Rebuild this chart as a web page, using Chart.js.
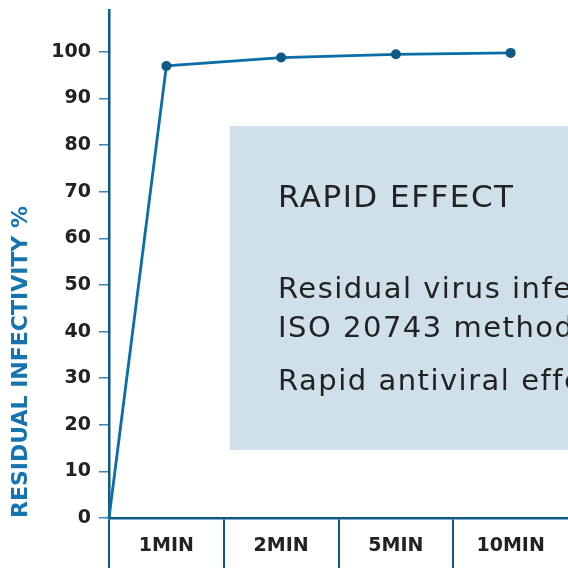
<!DOCTYPE html>
<html>
<head>
<meta charset="utf-8">
<script src="https://cdn.jsdelivr.net/npm/chart.js@4"></script>
<style>
	html, body { margin: 0; padding: 0; background: #fff; overflow: hidden; }
</style>
</head>
<body>
<canvas id="chart" width="568" height="568"></canvas>
<script>
var categories = ['1MIN', '2MIN', '5MIN', '10MIN'];
var values = [97, 98.8, 99.5, 99.8];
var startValue = 0;
var yTickMax = 100;
var yTitle = 'RESIDUAL INFECTIVITY %';
var panelTitle = 'RAPID EFFECT';
var panelLines = [
	'Residual virus infectivity measured by',
	'ISO 20743 method.',
	'Rapid antiviral effect within 1 minute.'
];

var FONT = "'DejaVu Sans', sans-serif";
var AXIS = '#0d5a89';
var LINE = '#0b6ea6';

var points = [{ x: 0, y: startValue }].concat(categories.map(function (c, i) {
	return { x: i + 0.5, y: values[i] };
}));

var panelPlugin = {
	id: 'panel',
	beforeDatasetsDraw: function (chart) {
		var ctx = chart.ctx;
		var a = chart.chartArea;
		var left = a.left + 121;
		var top = a.top + 116;
		ctx.save();
		ctx.fillStyle = '#d0e0ea';
		ctx.fillRect(left, top, chart.width - left, 324);
		ctx.fillStyle = '#222222';
		ctx.textBaseline = 'alphabetic';
		ctx.letterSpacing = '1.5px';
		ctx.font = '31px ' + FONT;
		ctx.fillText(panelTitle, left + 48, top + 81);
		ctx.font = '29px ' + FONT;
		ctx.fillText(panelLines[0], left + 48, top + 172);
		ctx.fillText(panelLines[1], left + 48, top + 211);
		ctx.fillText(panelLines[2], left + 48, top + 264);
		ctx.restore();
	}
};

new Chart(document.getElementById('chart'), {
	type: 'line',
	data: {
		datasets: [{
			data: points,
			borderColor: LINE,
			borderWidth: 2.8,
			pointRadius: points.map(function (p, i) { return i === 0 ? 0 : 5; }),
			pointBackgroundColor: AXIS,
			pointBorderWidth: 0,
			tension: 0,
			clip: false
		}]
	},
	options: {
		responsive: false,
		animation: false,
		layout: { padding: 0, autoPadding: false },
		plugins: {
			legend: { display: false },
			tooltip: { enabled: false }
		},
		scales: {
			x: {
				type: 'linear',
				min: 0,
				max: categories.length,
				afterFit: function (scale) {
					scale.height = 50;
					scale.paddingLeft = 0;
					scale.paddingRight = 0;
				},
				border: { color: AXIS, width: 2.5 },
				grid: {
					drawOnChartArea: false,
					tickLength: 50,
					lineWidth: 2,
					color: function (c) {
						var v = c.tick ? c.tick.value : 0.5;
						return v % 1 === 0 && v < categories.length ? AXIS : 'rgba(0,0,0,0)';
					}
				},
				ticks: {
					stepSize: 0.5,
					autoSkip: false,
					maxRotation: 0,
					padding: -33,
					color: '#222222',
					font: { family: FONT, size: 19, weight: 'bold' },
					callback: function (v) {
						return v % 1 === 0 ? '' : categories[Math.floor(v)];
					}
				}
			},
			y: {
				min: 0,
				max: 109,
				afterFit: function (scale) {
					scale.width = 109;
					scale.paddingTop = 10;
					scale.paddingBottom = 0;
				},
				border: { color: AXIS, width: 2.5 },
				grid: {
					drawOnChartArea: false,
					tickLength: 10,
					lineWidth: 1.5,
					color: '#3a86b8'
				},
				ticks: {
					stepSize: 10,
					includeBounds: false,
					padding: 8,
					color: '#222222',
					font: { family: FONT, size: 19, weight: 'bold' },
					callback: function (v) { return v <= yTickMax ? v : ''; }
				},
				title: {
					display: true,
					text: yTitle,
					align: 'start',
					color: '#1675b0',
					padding: { top: 8, bottom: 0 },
					font: { family: FONT, size: 22, weight: 'bold' }
				}
			}
		}
	},
	plugins: [panelPlugin]
});
</script>
</body>
</html>
